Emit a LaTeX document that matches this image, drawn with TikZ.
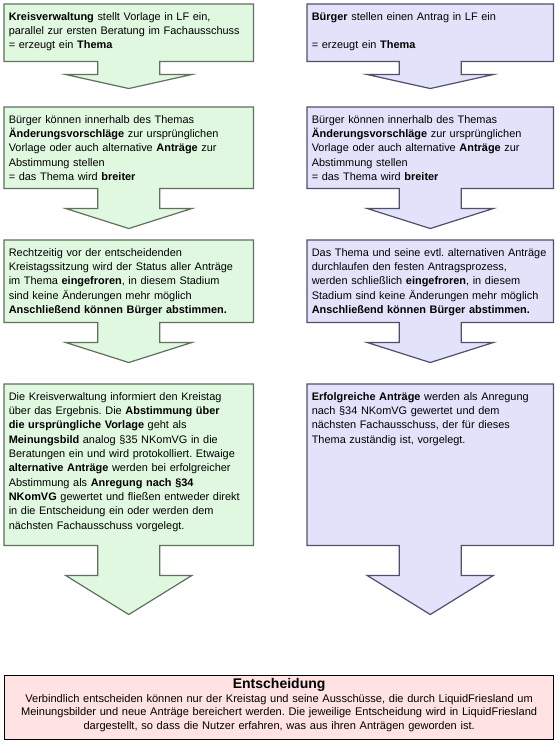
\documentclass[tikz,border=0pt]{standalone}
\usepackage{fontspec}
\setmainfont{Liberation Sans}
\usepackage{xcolor}
\definecolor{lgreen}{RGB}{224,248,224}
\definecolor{lblue}{RGB}{226,226,250}
\definecolor{lpink}{RGB}{255,226,226}
\definecolor{gline}{RGB}{95,112,95}
\definecolor{bline}{RGB}{80,80,108}
\usetikzlibrary{calc}
\usetikzlibrary{backgrounds}
\frenchspacing

\begin{document}
\begin{tikzpicture}[x=0.75pt,y=-0.75pt,
			every node/.style={font=\fontsize{8.2}{10.75}\selectfont, align=left, inner xsep=3.4pt, inner ysep=0pt, text height=12pt},
			lbox/.style={anchor=north west, text width=179.95pt, text depth=#1},
			rbox/.style={anchor=north west, text width=177.7pt, text depth=#1},
			gcall/.style={fill=lgreen, draw=gline, line width=0.9pt, line join=miter},
			bcall/.style={fill=lblue, draw=bline, line width=0.9pt, line join=miter},
			]
			\useasboundingbox (0,0) rectangle (558,745);
			% linke Spalte: Vorlage der Kreisverwaltung
			\node [lbox=30.75pt] (l1) at (4,4) {\textbf{Kreisverwaltung} stellt Vorlage in LF ein,\\
				parallel zur ersten Beratung im Fachausschuss\\
				= erzeugt ein \textbf{Thema}};
			\node [lbox=48.75pt] (l2) at (4,107) {Bürger können innerhalb des Themas\\
				\textbf{Änderungsvorschläge} zur ursprünglichen\\
				Vorlage oder auch alternative \textbf{Anträge} zur\\
				Abstimmung stellen\\
				= das Thema wird \textbf{breiter}};
			\node [lbox=49.5pt] (l3) at (4,240) {Rechtzeitig vor der entscheidenden\\
				Kreistagssitzung wird der Status aller Anträge\\
				im Thema \textbf{eingefroren}, in diesem Stadium\\
				sind keine Änderungen mehr möglich\\
				\textbf{Anschließend können Bürger abstimmen.}};
			\node [lbox=108.75pt] (l4) at (4,384) {Die Kreisverwaltung informiert den Kreistag\\
				über das Ergebnis. Die \textbf{Abstimmung über}\\
				\textbf{die ursprüngliche Vorlage} geht als\\
				\textbf{Meinungsbild} analog §35 NKomVG in die\\
				Beratungen ein und wird protokolliert. Etwaige\\
				\textbf{alternative Anträge} werden bei erfolgreicher\\
				Abstimmung als \textbf{Anregung nach §34}\\
				\textbf{NKomVG} gewertet und fließen entweder direkt\\
				in die Entscheidung ein oder werden dem\\
				nächsten Fachausschuss vorgelegt.};
			% rechte Spalte: Antrag der Bürger
			\node [rbox=30.75pt] (r1) at (307,4) {\textbf{Bürger} stellen einen Antrag in LF ein\\[10.75pt]
				= erzeugt ein \textbf{Thema}};
			\node [rbox=48.75pt] (r2) at (307,107) {Bürger können innerhalb des Themas\\
				\textbf{Änderungsvorschläge} zur ursprünglichen\\
				Vorlage oder auch alternative \textbf{Anträge} zur\\
				Abstimmung stellen\\
				= das Thema wird \textbf{breiter}};
			\node [rbox=49.5pt] (r3) at (307,240) {Das Thema und seine evtl. alternativen Anträge\\
				durchlaufen den festen Antragsprozess,\\
				werden schließlich \textbf{eingefroren}, in diesem\\
				Stadium sind keine Änderungen mehr möglich\\
				\textbf{Anschließend können Bürger abstimmen.}};
			\node [rbox=108.75pt] (r4) at (307,384) {\textbf{Erfolgreiche Anträge} werden als Anregung\\
				nach §34 NKomVG gewertet und dem\\
				nächsten Fachausschuss, der für dieses\\
				Thema zuständig ist, vorgelegt.};
			% Entscheidung
			\node [anchor=north west, fill=lpink, draw=black, line width=0.9pt, align=center,
				text width=405pt, text height=9.75pt, text depth=38.25pt,
				font=\fontsize{8.3}{10.1}\selectfont] (ent) at (4,675)
				{{\fontsize{10.5}{9.75}\selectfont\textbf{Entscheidung}}\\
				Verbindlich entscheiden können nur der Kreistag und seine Ausschüsse, die durch LiquidFriesland um\\
				Meinungsbilder und neue Anträge bereichert werden. Die jeweilige Entscheidung wird in LiquidFriesland\\
				dargestellt, so dass die Nutzer erfahren, was aus ihren Anträgen geworden ist.};
			
			\begin{scope}[on background layer]
				\foreach \n/\c/\s/\h in {l1/gcall/13/14, l2/gcall/20/20, l3/gcall/20/20, l4/gcall/30/39,
					r1/bcall/13/14, r2/bcall/20/20, r3/bcall/20/20, r4/bcall/30/39}
				\draw [\c] (\n.north west) -- (\n.north east) -- (\n.south east)
				-- ($(\n.south)+(31,0)$) -- ++(0,\s) -- ++(32,0) -- ($(\n.south)+(0,\s+\h)$)
				-- ($(\n.south)+(-63,\s)$) -- ++(32,0) -- ($(\n.south)+(-31,0)$)
				-- (\n.south west) -- cycle;
			\end{scope}
			
		\end{tikzpicture}
\end{document}
